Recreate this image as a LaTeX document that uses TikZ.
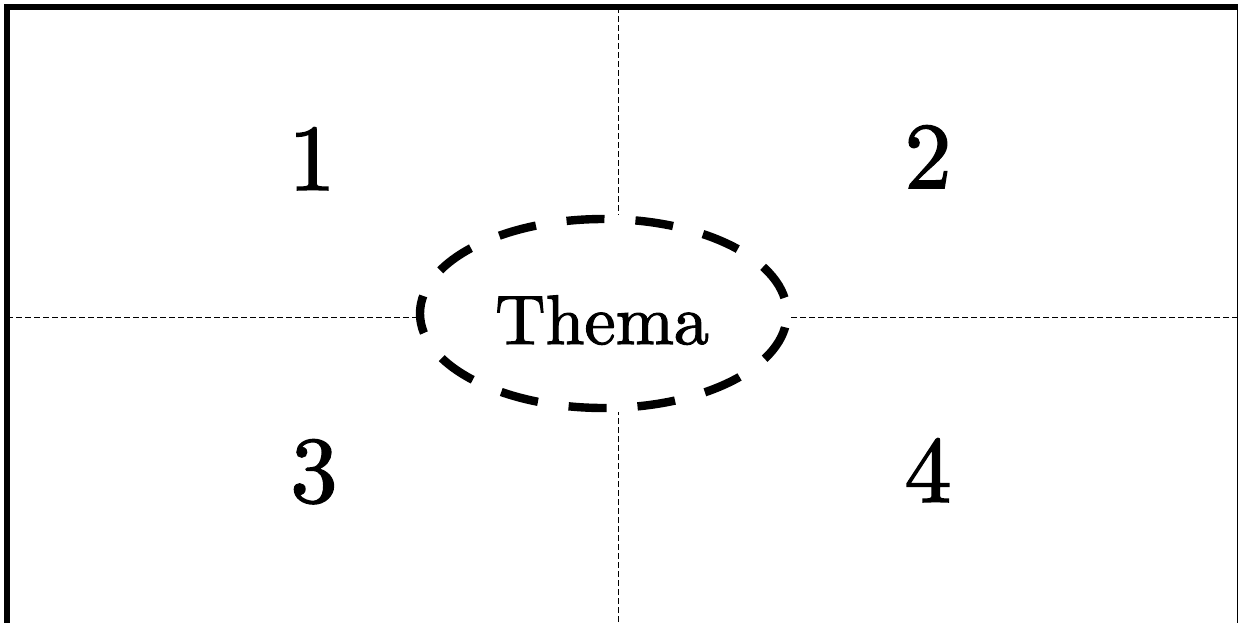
\documentclass[tikz,border=0pt]{standalone}
\usepackage{fontspec}
\newfontfamily\cmten{lmroman10-regular.otf}[FakeBold=1.6]
\usetikzlibrary{shapes.geometric}
\begin{document}
\begin{tikzpicture}[x=0.5pt,y=-0.5pt,
  frameline/.style={line width=3.2pt},
  guide/.style={line width=0.5pt,dash pattern=on 3pt off 1.5pt},
  themebox/.style={ellipse,draw,line width=4.2pt,dash pattern=on 19pt off 15.5pt,dash phase=26.5pt,
    minimum width=183.5pt,minimum height=94.5pt,inner sep=0pt},
  digit/.style={font=\cmten\fontsize{47}{50}\selectfont,anchor=base,inner sep=0pt}]
\useasboundingbox (0,0) rectangle (1238,622);
\clip (0,0) rectangle (1238,622);
\coordinate (tl) at (7,7);
\coordinate (br) at (1240.6,640);
\draw[frameline] (tl) rectangle (br);
\node[themebox] (thema) at (603.5,313.5) {};
\node[font=\cmten\fontsize{35}{40}\selectfont,anchor=base,inner sep=0pt] (label) at (602,344) {Thema};
\coordinate (ntop) at (618,7);
\coordinate (nbot) at (618,622);
\coordinate (wl) at (7,317);
\coordinate (el) at (1238,317);
\draw[guide] (ntop) -- (ntop |- thema.north);
\draw[guide] (nbot) -- (nbot |- thema.south);
\draw[guide] (wl) -- (wl -| thema.west);
\draw[guide] (el) -- (el -| thema.east);
\node[digit] (d1) at (312,190) {1};
\node[digit] (d2) at (928,188) {2};
\node[digit] (d3) at (314,502) {3};
\node[digit] (d4) at (928,502) {4};
\end{tikzpicture}
\end{document}
